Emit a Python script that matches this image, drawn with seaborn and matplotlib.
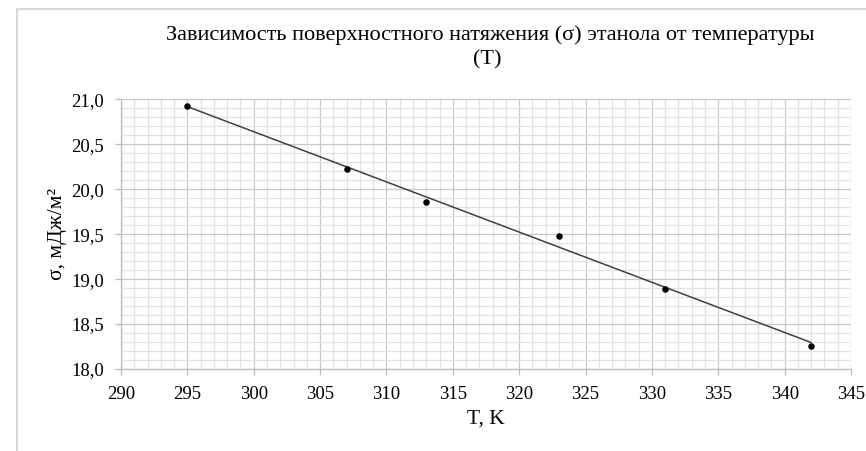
import matplotlib
matplotlib.use("Agg")
import matplotlib.pyplot as plt
from matplotlib.lines import Line2D
from matplotlib.ticker import MultipleLocator, FuncFormatter
import seaborn as sns
import pandas as pd

# Data
temperature_K = [295, 307, 313, 323, 331, 342]
surface_tension = [20.92, 20.23, 19.86, 19.48, 18.89, 18.26]

title_line1 = "Зависимость поверхностного натяжения (σ) этанола от температуры"
title_line2 = "(T)"
x_label = "T, K"
y_label = "σ, мДж/м²"

df = pd.DataFrame({"T": temperature_K, "sigma": surface_tension})

sns.set_theme(style="white")
plt.rcParams["font.family"] = ["Liberation Serif", "DejaVu Serif"]

fig = plt.figure(figsize=(8.66, 4.51), dpi=100)
ax = fig.add_axes([121 / 866, 1 - 369 / 451, 730 / 866, 269.7 / 451])

sns.regplot(data=df, x="T", y="sigma", ax=ax, ci=None, scatter=False,
            line_kws=dict(color="#404040", lw=1.1, zorder=3))
sns.scatterplot(data=df, x="T", y="sigma", ax=ax, color="black", s=22,
                edgecolor="black", linewidth=0, zorder=4)

ax.set_xlim(290, 345)
ax.set_ylim(18.0, 21.0)
ax.xaxis.set_major_locator(MultipleLocator(5))
ax.xaxis.set_minor_locator(MultipleLocator(1))
ax.yaxis.set_major_locator(MultipleLocator(0.5))
ax.yaxis.set_minor_locator(MultipleLocator(0.1))
ax.yaxis.set_major_formatter(FuncFormatter(lambda v, p: f"{v:.1f}".replace(".", ",")))

ax.grid(True, which="major", color="#c8c8c8", lw=0.9)
ax.grid(True, which="minor", color="#e2e2e2", lw=0.9)
ax.set_axisbelow(True)

for s in ["top", "right"]:
    ax.spines[s].set_visible(False)
for s in ["left", "bottom"]:
    ax.spines[s].set_color("#bdbdbd")
    ax.spines[s].set_linewidth(0.9)

ax.tick_params(axis="both", which="major", length=4, width=0.9, color="#bdbdbd",
               labelsize=13.5, pad=8, labelcolor="black", direction="out",
               bottom=True, left=True)
ax.tick_params(axis="both", which="minor", length=0)

ax.set_xlabel(x_label, fontsize=15.5, color="black", labelpad=5)
ax.set_ylabel(y_label, fontsize=15.5, color="black", labelpad=3)

fig.text(490 / 866, 1 - 35 / 451, title_line1,
         ha="center", va="center", fontsize=16, color="black")
fig.text(487 / 866, 1 - 60 / 451, title_line2, ha="center", va="center", fontsize=16, color="black")

# chart area border (top and left visible)
fig.add_artist(Line2D([17 / 866, 1.0], [1 - 9 / 451, 1 - 9 / 451], transform=fig.transFigure,
                      color="#d9d9d9", lw=1.5))
fig.add_artist(Line2D([17 / 866, 17 / 866], [0, 1 - 9 / 451], transform=fig.transFigure,
                      color="#d9d9d9", lw=1.5))

fig.savefig("out.png", dpi=100, facecolor="white")
